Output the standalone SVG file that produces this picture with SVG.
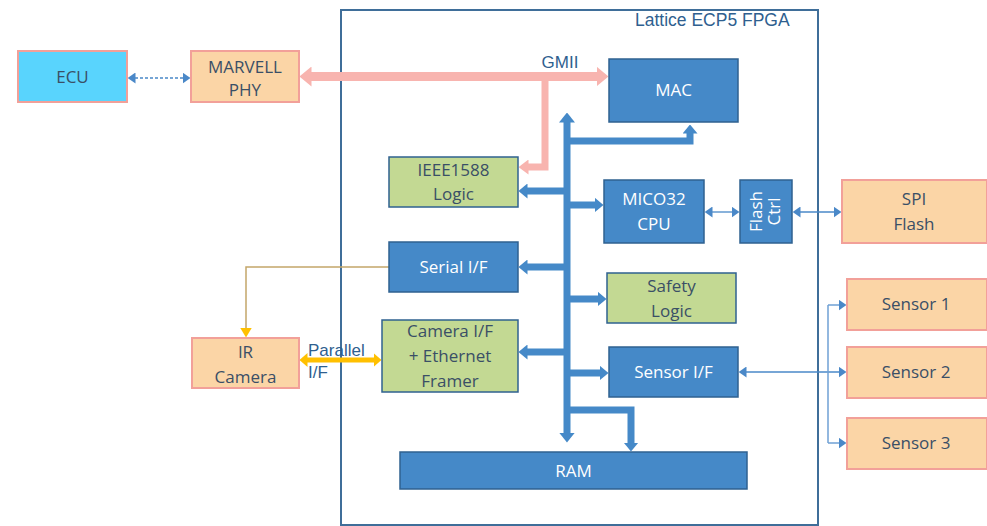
<svg xmlns="http://www.w3.org/2000/svg" width="987" height="526" viewBox="0 0 987 526">
<style>
.lbl{font-family:"Open Sans","Noto Sans",sans-serif;font-size:17px;text-anchor:middle}
.dk{fill:#3A4F66}
.wt{fill:#FFFFFF}
.ar{font-family:"Liberation Sans",Arial,sans-serif;fill:#2F5F8F}
.blue{fill:#4589C8;stroke:#2F6190;stroke-width:1.5}
.green{fill:#C3D993;stroke:#2F6190;stroke-width:1.5}
.orange{fill:#FBD5A6;stroke:#F2A099;stroke-width:2}
.bus{fill:none;stroke:#4589C8;stroke-width:7;stroke-linejoin:miter}
.thin{fill:none;stroke:#4A88C8;stroke-width:1.3}
</style>
<defs>
<marker id="bh" markerUnits="userSpaceOnUse" viewBox="0 0 9 15" markerWidth="9" markerHeight="15" refX="0.5" refY="7.5" orient="auto-start-reverse"><path d="M0,0 L9,7.5 L0,15 z" fill="#4589C8"/></marker>
<marker id="bm" markerUnits="userSpaceOnUse" viewBox="0 0 10 16" markerWidth="10" markerHeight="16" refX="0.5" refY="8" orient="auto-start-reverse"><path d="M0,0 L10,8 L0,16 z" fill="#4589C8"/></marker>
<marker id="ph" markerUnits="userSpaceOnUse" viewBox="0 0 12 20" markerWidth="12" markerHeight="20" refX="0.5" refY="10" orient="auto-start-reverse"><path d="M0,0 L12,10 L0,20 z" fill="#F8B4AF"/></marker>
<marker id="pb" markerUnits="userSpaceOnUse" viewBox="0 0 10 15" markerWidth="10" markerHeight="15" refX="0.5" refY="7.5" orient="auto-start-reverse"><path d="M0,0 L10,7.5 L0,15 z" fill="#F8B4AF"/></marker>
<marker id="yh" markerUnits="userSpaceOnUse" viewBox="0 0 8 14" markerWidth="8" markerHeight="14" refX="0.5" refY="7" orient="auto-start-reverse"><path d="M0,0 L8,7 L0,14 z" fill="#FFC000"/></marker>
<marker id="ys" markerUnits="userSpaceOnUse" viewBox="0 0 10 12" markerWidth="10" markerHeight="12" refX="0.5" refY="6" orient="auto-start-reverse"><path d="M0,0 L10,6 L0,12 z" fill="#FFC000"/></marker>
<marker id="th" markerUnits="userSpaceOnUse" viewBox="0 0 8 11" markerWidth="8" markerHeight="11" refX="0.5" refY="5.5" orient="auto-start-reverse"><path d="M0,0 L8,5.5 L0,11 z" fill="#4A88C8"/></marker>
</defs>

<g id="fpga">
<rect x="341" y="10" width="477" height="515" fill="none" stroke="#3F6E99" stroke-width="2"/>
<text class="ar" x="635" y="26" font-size="17.5">Lattice ECP5 FPGA</text>
</g>

<g id="connectors">
<!-- GMII -->
<line x1="311" y1="76.5" x2="597" y2="76.5" stroke="#F8B4AF" stroke-width="9" marker-start="url(#ph)" marker-end="url(#ph)"/>
<polyline points="545,76 545,167 528,167" fill="none" stroke="#F8B4AF" stroke-width="7" marker-end="url(#pb)"/>
<text class="ar" x="560" y="68" font-size="17" text-anchor="middle">GMII</text>
<!-- bus -->
<line class="bus" x1="567" y1="122" x2="567" y2="433" marker-start="url(#bm)" marker-end="url(#bm)"/>
<polyline class="bus" points="567,141 690,141 690,133" marker-end="url(#bh)"/>
<line class="bus" x1="567" y1="191" x2="527" y2="191" marker-end="url(#bh)"/>
<line class="bus" x1="567" y1="205" x2="595" y2="205" marker-end="url(#bh)"/>
<line class="bus" x1="567" y1="267" x2="527" y2="267" marker-end="url(#bh)"/>
<line class="bus" x1="567" y1="299" x2="598" y2="299" marker-end="url(#bh)"/>
<line class="bus" x1="567" y1="352" x2="527" y2="352" marker-end="url(#bh)"/>
<line class="bus" x1="567" y1="373" x2="600" y2="373" marker-end="url(#bh)"/>
<polyline class="bus" points="567,410 631,410 631,443" marker-end="url(#bh)"/>
<!-- ECU - PHY -->
<line class="thin" x1="135" y1="78" x2="183" y2="78" stroke-dasharray="3,2" marker-start="url(#th)" marker-end="url(#th)"/>
<!-- MICO32 - Flash Ctrl - SPI -->
<line class="thin" x1="712" y1="212" x2="732" y2="212" marker-start="url(#th)" marker-end="url(#th)"/>
<line class="thin" x1="800" y1="212" x2="834" y2="212" marker-start="url(#th)" marker-end="url(#th)"/>
<!-- Sensor I/F - sensors -->
<line class="thin" x1="746" y1="372" x2="839" y2="372" marker-start="url(#th)" marker-end="url(#th)"/>
<line x1="828" y1="305" x2="828" y2="443" stroke="#6FA0D4" stroke-width="1.5"/>
<line x1="828" y1="305" x2="839" y2="305" stroke="#6FA0D4" stroke-width="1.5" marker-end="url(#th)"/>
<line x1="828" y1="443" x2="839" y2="443" stroke="#6FA0D4" stroke-width="1.5" marker-end="url(#th)"/>
<!-- Serial I/F - IR camera -->
<polyline points="389,267 246,267 246,328" fill="none" stroke="#C4A66A" stroke-width="1.5" marker-end="url(#ys)"/>
<!-- Parallel I/F -->
<line x1="307" y1="360" x2="374" y2="360" stroke="#FFC000" stroke-width="5" marker-start="url(#yh)" marker-end="url(#yh)"/>
<text class="ar" x="308" y="356" font-size="17">Parallel</text>
<text class="ar" x="308" y="378" font-size="17">I/F</text>
</g>

<g id="ecu">
<rect x="18" y="51" width="109" height="51" fill="#59D4FD" stroke="#F2A099" stroke-width="2"/>
<text class="lbl dk" x="72.5" y="83">ECU</text>
</g>
<g id="phy">
<rect class="orange" x="191" y="51" width="108" height="51"/>
<text class="lbl dk" x="245" y="73">MARVELL</text>
<text class="lbl dk" x="245" y="96">PHY</text>
</g>
<g id="mac">
<rect class="blue" x="609" y="59" width="129" height="63"/>
<text class="lbl wt" x="673.5" y="96">MAC</text>
</g>
<g id="ieee1588">
<rect class="green" x="389" y="157" width="129" height="50"/>
<text class="lbl dk" x="453.5" y="176">IEEE1588</text>
<text class="lbl dk" x="453.5" y="200">Logic</text>
</g>
<g id="mico32">
<rect class="blue" x="604" y="180" width="100" height="63"/>
<text class="lbl wt" x="654" y="205">MICO32</text>
<text class="lbl wt" x="654" y="230">CPU</text>
</g>
<g id="flashctrl">
<rect class="blue" x="740" y="180" width="52" height="63"/>
<text class="lbl wt" transform="translate(766,211.5) rotate(-90)" x="0" y="-4">Flash</text>
<text class="lbl wt" transform="translate(766,211.5) rotate(-90)" x="0" y="14">Ctrl</text>
</g>
<g id="serial">
<rect class="blue" x="389" y="242" width="129" height="50"/>
<text class="lbl wt" x="453.5" y="273">Serial I/F</text>
</g>
<g id="safety">
<rect class="green" x="607" y="273" width="129" height="50"/>
<text class="lbl dk" x="671.5" y="292">Safety</text>
<text class="lbl dk" x="671.5" y="317">Logic</text>
</g>
<g id="camera-if">
<rect class="green" x="382" y="320" width="136" height="72"/>
<text class="lbl dk" x="450" y="337">Camera I/F</text>
<text class="lbl dk" x="450" y="362">+ Ethernet</text>
<text class="lbl dk" x="450" y="387">Framer</text>
</g>
<g id="sensor-if">
<rect class="blue" x="609" y="347" width="129" height="50"/>
<text class="lbl wt" x="673.5" y="378">Sensor I/F</text>
</g>
<g id="ram">
<rect class="blue" x="400" y="452" width="347" height="37"/>
<text class="lbl wt" x="573.5" y="477">RAM</text>
</g>
<g id="ir-camera">
<rect class="orange" x="192" y="338" width="107" height="50"/>
<text class="lbl dk" x="245.5" y="358">IR</text>
<text class="lbl dk" x="245.5" y="383">Camera</text>
</g>
<g id="spi-flash">
<rect class="orange" x="842" y="180" width="145" height="63"/>
<text class="lbl dk" x="914" y="205">SPI</text>
<text class="lbl dk" x="914" y="230">Flash</text>
</g>
<g id="sensor1">
<rect class="orange" x="847" y="279" width="140" height="51"/>
<text class="lbl dk" x="916" y="310">Sensor 1</text>
</g>
<g id="sensor2">
<rect class="orange" x="847" y="347" width="140" height="51"/>
<text class="lbl dk" x="916" y="378">Sensor 2</text>
</g>
<g id="sensor3">
<rect class="orange" x="847" y="418" width="140" height="51"/>
<text class="lbl dk" x="916" y="449">Sensor 3</text>
</g>
</svg>
